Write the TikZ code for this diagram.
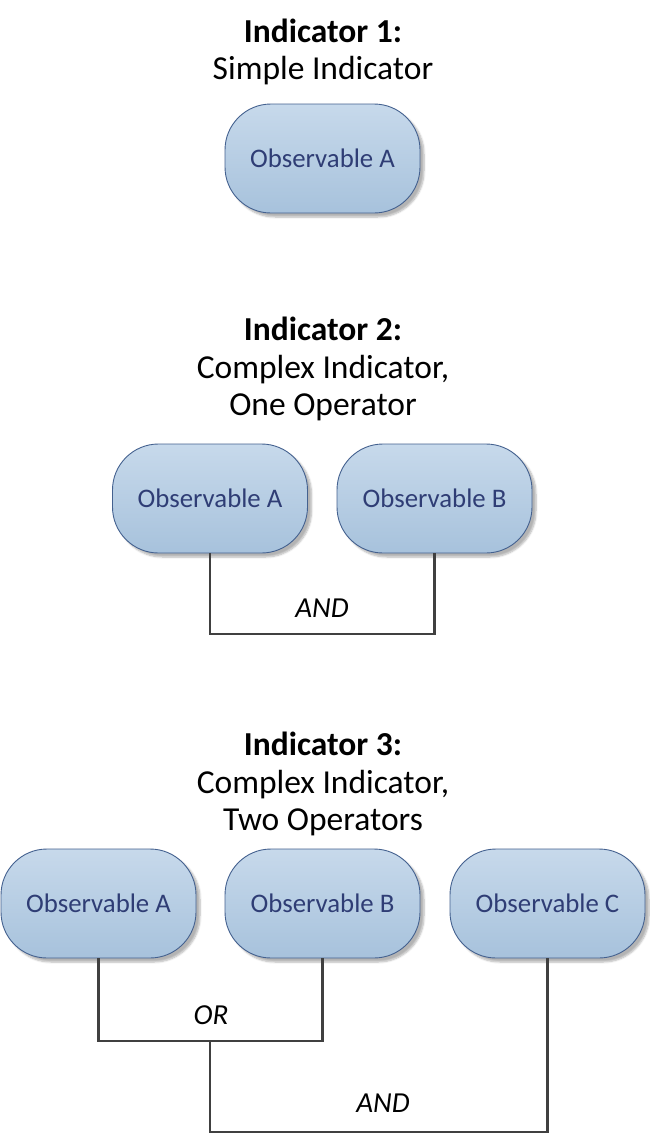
\documentclass[tikz,border=0pt]{standalone}
\usepackage{fontspec}
\setmainfont{Carlito}
\usetikzlibrary{shadows.blur}
\definecolor{obstop}{HTML}{C7D9EB}
\definecolor{obsbot}{HTML}{A7C2DC}
\definecolor{obsborder}{HTML}{44618F}
\definecolor{obstext}{HTML}{2F3D75}
\definecolor{connline}{HTML}{404040}
\begin{document}
\begin{tikzpicture}[x=1pt,y=-1pt,
  obs/.style={draw=obsborder, line width=0.9pt, rounded corners=46pt,
    minimum width=195pt, minimum height=109pt, inner sep=0pt,
    top color=obstop, bottom color=obsbot, text=obstext,
    font=\fontsize{26.8}{30}\selectfont,
    blur shadow={shadow xshift=4pt, shadow yshift=-4pt, shadow blur steps=6, shadow opacity=30}},
  conn/.style={draw=connline, line width=2.6pt, line join=miter},
  optext/.style={font=\fontsize{29}{32}\selectfont\itshape, text=black, inner sep=0pt},
  titlebold/.style={font=\fontsize{33.5}{38}\selectfont\bfseries, anchor=base, inner sep=0pt},
  titleplain/.style={font=\fontsize{33.5}{38}\selectfont, anchor=base, inner sep=0pt}]
\useasboundingbox (0,0) rectangle (650,1136);

% Indicator 1
\node[titlebold] (t1a) at (323,42) {Indicator 1:};
\node[titleplain] (t1b) at (323,79) {Simple Indicator};
\node[obs] (n1) at (322.5,158.5) {Observable A};

% Indicator 2
\node[titlebold] (t2a) at (323,340) {Indicator 2:};
\node[titleplain] (t2b) at (323,378) {Complex Indicator,};
\node[titleplain] (t2c) at (323,415) {One Operator};
\node[obs] (n2a) at (210,498.5) {Observable A};
\node[obs] (n2b) at (434.5,498.5) {Observable B};
\coordinate (h2) at (0,634);
\draw[conn] (n2a.south) -- (n2a.south |- h2) -| (n2b.south);
\node[optext] (op2) at (322,608) {AND};

% Indicator 3
\node[titlebold] (t3a) at (323,755) {Indicator 3:};
\node[titleplain] (t3b) at (323,793) {Complex Indicator,};
\node[titleplain] (t3c) at (323,830) {Two Operators};
\node[obs] (n3a) at (98.5,903.5) {Observable A};
\node[obs] (n3b) at (322.5,903.5) {Observable B};
\node[obs] (n3c) at (547.5,903.5) {Observable C};
\coordinate (h3) at (0,1041);
\coordinate (j3) at (210,1041);
\coordinate (h4) at (0,1132);
\draw[conn] (n3a.south) -- (n3a.south |- h3) -| (n3b.south);
\draw[conn] (j3) -- (j3 |- h4) -| (n3c.south);
\node[optext] (op3a) at (211,1015) {OR};
\node[optext] (op3b) at (383,1103) {AND};
\end{tikzpicture}
\end{document}
